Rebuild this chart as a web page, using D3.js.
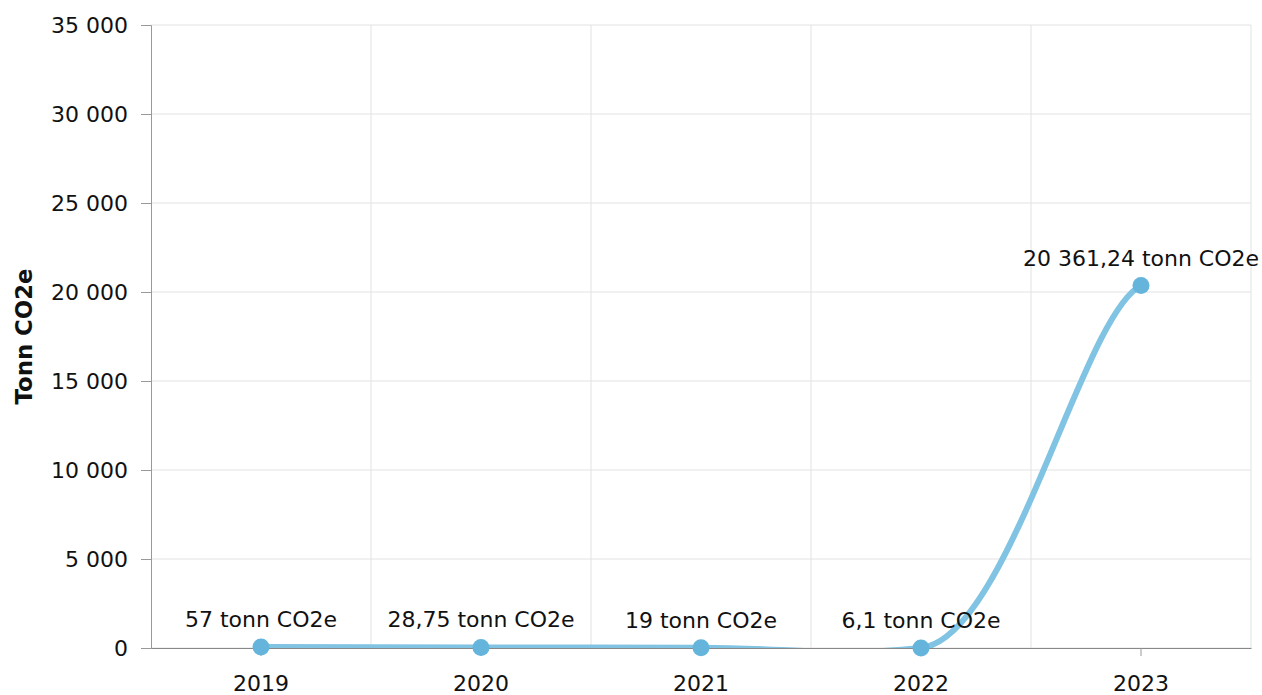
<!DOCTYPE html>
<html>
<head>
<meta charset="utf-8">
<script src="https://cdn.jsdelivr.net/npm/d3@7"></script>
<style>
  html, body { margin: 0; padding: 0; background: #fff; }
  svg { display: block; font-family: "DejaVu Sans", Verdana, sans-serif; }
</style>
</head>
<body>
<svg id="chart" width="1262" height="695"></svg>
<script>
const categories = ["2019", "2020", "2021", "2022", "2023"];
const values = [57, 28.75, 19, 6.1, 20361.24];
const valueLabels = ["57 tonn CO2e", "28,75 tonn CO2e", "19 tonn CO2e", "6,1 tonn CO2e", "20 361,24 tonn CO2e"];
const yTicks = [0, 5000, 10000, 15000, 20000, 25000, 30000, 35000];
const yTitle = "Tonn CO2e";

const FONT = '"DejaVu Sans", Verdana, sans-serif';
const FS = 22;
const margin = { left: 151, right: 11, top: 25, bottom: 47 };
const W = 1262, H = 695;
const svg = d3.select("#chart");

const x = d3.scaleBand().domain(categories).range([margin.left, W - margin.right]).padding(0);
const y = d3.scaleLinear().domain([0, 35000]).range([H - margin.bottom, margin.top]);

const fmt = v => d3.format(",")(v).replace(/,/g, " ");

// horizontal grid
svg.append("g").selectAll("line").data(yTicks).join("line")
  .attr("x1", margin.left).attr("x2", W - margin.right)
  .attr("y1", d => y(d)).attr("y2", d => y(d))
  .attr("stroke", "#e2e2e2").attr("stroke-width", 1);

// vertical grid at band boundaries
const bounds = categories.map(c => x(c)).concat([x(categories[categories.length - 1]) + x.bandwidth()]);
svg.append("g").selectAll("line").data(bounds.slice(1)).join("line")
  .attr("x1", d => d).attr("x2", d => d)
  .attr("y1", margin.top).attr("y2", H - margin.bottom)
  .attr("stroke", "#e2e2e2").attr("stroke-width", 1);

// y axis
const yAxis = svg.append("g").attr("transform", `translate(${margin.left},0)`)
  .call(d3.axisLeft(y).tickValues(yTicks).tickFormat(fmt).tickSize(10).tickPadding(13));
yAxis.select(".domain").attr("stroke", "#999");
yAxis.selectAll(".tick line").attr("stroke", "#999");
yAxis.selectAll("text").attr("font-size", FS).attr("fill", "#111").attr("font-family", FONT);

// x axis
const xAxis = svg.append("g").attr("transform", `translate(0,${H - margin.bottom})`)
  .call(d3.axisBottom(x).tickSize(8).tickSizeOuter(0));
xAxis.select(".domain").attr("stroke", "#888");
xAxis.selectAll(".tick line").attr("stroke", "#999");
xAxis.selectAll("text").attr("font-size", FS).attr("fill", "#111").attr("font-family", FONT)
  .attr("y", 43).attr("dy", 0);

// y title
svg.append("text")
  .attr("transform", `translate(32,${(margin.top + H - margin.bottom) / 2}) rotate(-90)`)
  .attr("text-anchor", "middle")
  .attr("font-size", 22.8).attr("font-weight", "bold").attr("fill", "#111")
  .text(yTitle);

// clip to plot area
svg.append("clipPath").attr("id", "clip").append("rect")
  .attr("x", margin.left).attr("y", margin.top - 20)
  .attr("width", W - margin.left - margin.right).attr("height", H - margin.bottom - margin.top + 20);

const pts = categories.map((c, i) => [x(c) + x.bandwidth() / 2, y(values[i])]);

// Smooth spline (Hermite form, built with d3.path)
function splinePath(p) {
  const n = p.length;
  const sec = [];
  for (let i = 0; i < n - 1; i++) sec.push((p[i + 1][1] - p[i][1]) / (p[i + 1][0] - p[i][0]));
  const m = p.map((d, i) => {
    if (i === 0) return 0;
    if (i === n - 1) return 0.3 * sec[n - 2];
    const a = sec[i - 1], b = sec[i];
    const avg = (a + b) / 2;
    // dampen tangent at local extremes
    return (a * b < 0 || Math.abs(a) < 0.01) ? 0.13 * avg : avg;
  });
  const path = d3.path();
  path.moveTo(p[0][0], p[0][1]);
  for (let i = 0; i < n - 1; i++) {
    const dx = p[i + 1][0] - p[i][0];
    const h0 = 0.4 * dx;
    const h1 = (i + 1 === n - 1) ? 0.27 * dx : 0.4 * dx;
    path.bezierCurveTo(
      p[i][0] + h0, p[i][1] + m[i] * h0,
      p[i + 1][0] - h1, p[i + 1][1] - m[i + 1] * h1,
      p[i + 1][0], p[i + 1][1]);
  }
  return path.toString();
}

svg.append("path")
  .attr("clip-path", "url(#clip)")
  .attr("d", splinePath(pts))
  .attr("fill", "none").attr("stroke", "#80c3e2").attr("stroke-width", 6)
  .attr("stroke-linecap", "round");

svg.append("g").selectAll("circle").data(pts).join("circle")
  .attr("cx", d => d[0]).attr("cy", d => d[1]).attr("r", 8.5)
  .attr("fill", "#64b4dc");

svg.append("g").selectAll("text").data(pts).join("text")
  .attr("x", d => d[0]).attr("y", d => d[1] - 20)
  .attr("text-anchor", "middle").attr("font-size", FS).attr("fill", "#111")
  .text((d, i) => valueLabels[i]);
</script>
</body>
</html>
